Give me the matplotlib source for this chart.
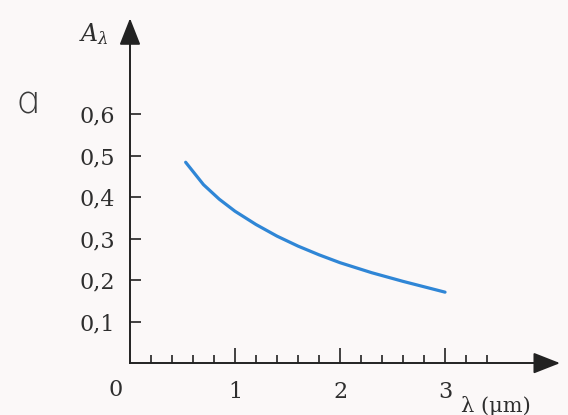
import matplotlib
matplotlib.use('Agg')
import matplotlib.pyplot as plt
import numpy as np

# spectral absorptance curve
wavelength = [0.53, 0.7, 0.85, 1.0, 1.2, 1.4, 1.6, 1.8, 2.0, 2.3, 2.6, 3.0]
absorb = [0.484, 0.430, 0.395, 0.366, 0.334, 0.306, 0.282, 0.261, 0.242, 0.218, 0.197, 0.171]

y_ticks = [0.1, 0.2, 0.3, 0.4, 0.5, 0.6]
y_labels = ['0,1', '0,2', '0,3', '0,4', '0,5', '0,6']
x_ticks = [1, 2, 3]
x_labels = ['1', '2', '3']
x_minor = [0.2, 0.4, 0.6, 0.8, 1.2, 1.4, 1.6, 1.8, 2.2, 2.4, 2.6, 2.8, 3.2, 3.4]

plt.rcParams['mathtext.fontset'] = 'dejavuserif'
bg = '#fbf8f8'
ink = '#222222'
txt = '#2e2e2e'

fig = plt.figure(figsize=(5.68, 4.15), dpi=100, facecolor=bg)
ax = fig.add_axes([0, 0, 1, 1], facecolor=bg)

ax.set_xlim(-1.238, 4.171)
ax.set_ylim(-0.125, 0.875)

ax.plot(wavelength, absorb, color='#2f86d6', lw=2.3, solid_capstyle='round',
        solid_joinstyle='round')

for s in ['top', 'right']:
    ax.spines[s].set_visible(False)
ax.spines['left'].set_position(('data', 0))
ax.spines['bottom'].set_position(('data', 0))
ax.spines['left'].set_bounds(0, 0.80)
ax.spines['bottom'].set_bounds(0, 4.03)
for s in ['left', 'bottom']:
    ax.spines[s].set_color(ink)
    ax.spines[s].set_linewidth(1.4)

# arrow heads
ax.annotate('', xy=(4.095, 0), xytext=(3.9, 0),
            arrowprops=dict(arrowstyle='-|>,head_length=1.65,head_width=0.65',
                            mutation_scale=10, color=ink, lw=1.4, shrinkA=0, shrinkB=0))
ax.annotate('', xy=(0, 0.831), xytext=(0, 0.77),
            arrowprops=dict(arrowstyle='-|>,head_length=1.65,head_width=0.65',
                            mutation_scale=10, color=ink, lw=1.4, shrinkA=0, shrinkB=0))

ax.set_yticks(y_ticks)
ax.set_yticklabels(y_labels, fontfamily='DejaVu Serif', fontsize=16, color=txt)
ax.set_xticks(x_ticks)
ax.set_xticklabels(x_labels, fontfamily='DejaVu Serif', fontsize=16, color=txt)
ax.set_xticks(x_minor, minor=True)
ax.tick_params(axis='y', direction='in', length=8, width=1.2, color=ink, pad=11)
ax.tick_params(axis='x', which='major', direction='in', length=11, width=1.2, color=ink, pad=13)
ax.tick_params(axis='x', which='minor', direction='in', length=6, width=1.2, color=ink)

ax.text(-0.14, -0.065, '0', fontfamily='DejaVu Serif', fontsize=16, color=txt,
        ha='center', va='center')
ax.text(3.15, -0.103, 'λ (µm)', fontfamily='DejaVu Serif', fontsize=15,
        color=txt, ha='left', va='center')
ax.text(-0.2, 0.776, r'$A_\lambda$', fontsize=17, color=txt,
        ha='right', va='baseline')
ax.text(-0.98, 0.627, 'ɑ', fontfamily='DejaVu Sans', fontweight='light', fontsize=28,
        color='#3a3a3a', ha='center', va='center')

fig.savefig('out.png', dpi=100, facecolor=bg)
